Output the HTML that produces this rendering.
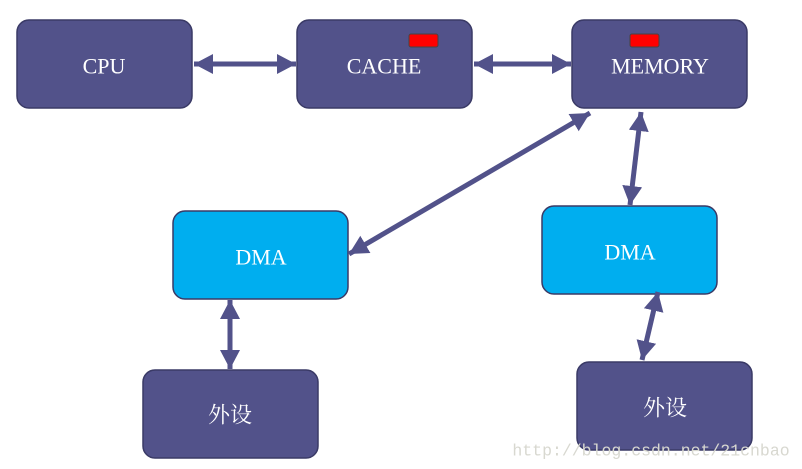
<!DOCTYPE html>
<html><head><meta charset="utf-8"><style>
html,body{margin:0;padding:0;background:#fff;}
svg{display:block}
text{font-family:"Liberation Serif","Noto Serif CJK SC",serif;fill:#fff;font-size:22px;text-anchor:middle;dominant-baseline:central}
</style></head><body>
<svg width="802" height="469" viewBox="0 0 802 469" xmlns="http://www.w3.org/2000/svg">
<defs>
<marker id="a" markerUnits="userSpaceOnUse" markerWidth="22" markerHeight="22" refX="19" refY="10" orient="auto-start-reverse" viewBox="0 0 22 20">
<path d="M0,0 L19,10 L0,20 Z" fill="#52528A"/>
</marker>
</defs>
<g fill="#52528A" stroke="#3a3a66" stroke-width="1.5">
<rect x="17" y="20" width="175" height="88" rx="12"/>
<rect x="297" y="20" width="175" height="88" rx="12"/>
<rect x="572" y="20" width="175" height="88" rx="12"/>
<rect x="143" y="370" width="175" height="88" rx="12"/>
<rect x="577" y="362" width="175" height="88" rx="12"/>
<rect x="173" y="211" width="175" height="88" rx="12" fill="#00AEEF"/>
<rect x="542" y="206" width="175" height="88" rx="12" fill="#00AEEF"/>
</g>
<rect x="409" y="34" width="29" height="13" rx="2" fill="#f00" stroke="#444" stroke-width="1"/>
<rect x="630" y="34" width="29" height="13" rx="2" fill="#f00" stroke="#444" stroke-width="1"/>
<g stroke="#52528A" stroke-width="5" marker-start="url(#a)" marker-end="url(#a)">
<line x1="194" y1="64" x2="296" y2="64"/>
<line x1="474" y1="64" x2="571" y2="64"/>
<line x1="590" y1="113" x2="349" y2="254"/>
<line x1="641" y1="112" x2="630" y2="205"/>
<line x1="230" y1="300" x2="230" y2="369"/>
<line x1="658" y1="292" x2="642" y2="360"/>
</g>
<text x="104" y="66">CPU</text>
<text x="384" y="66">CACHE</text>
<text x="660" y="66">MEMORY</text>
<text x="261" y="257">DMA</text>
<text x="630" y="252">DMA</text>
<text x="230" y="415">外设</text>
<text x="665" y="408">外设</text>
<text x="651" y="451" style="fill:#d8d8d0;font-family:'Liberation Mono',monospace;font-size:16.5px">http://blog.csdn.net/21cnbao</text>
</svg>
</body></html>
